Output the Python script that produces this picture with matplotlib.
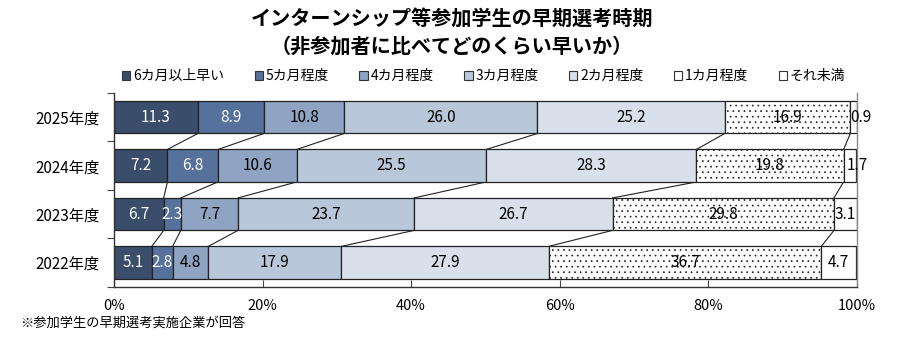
import numpy as np
import matplotlib
matplotlib.use("Agg")
import matplotlib.pyplot as plt
from matplotlib.patches import Patch

plt.rcParams['font.family'] = ['Noto Sans CJK JP', 'DejaVu Sans']
plt.rcParams['hatch.color'] = '#bcbcbc'
plt.rcParams['hatch.linewidth'] = 0.5

# --- データ ---
years = ['2025年度', '2024年度', '2023年度', '2022年度']
categories = ['6カ月以上早い', '5カ月程度', '4カ月程度', '3カ月程度', '2カ月程度', '1カ月程度', 'それ未満']
v_6m = [11.3, 7.2, 6.7, 5.1]
v_5m = [8.9, 6.8, 2.3, 2.8]
v_4m = [10.8, 10.6, 7.7, 4.8]
v_3m = [26.0, 25.5, 23.7, 17.9]
v_2m = [25.2, 28.3, 26.7, 27.9]
v_1m = [16.9, 19.8, 29.8, 36.7]
v_less = [0.9, 1.7, 3.1, 4.7]

series = [v_6m, v_5m, v_4m, v_3m, v_2m, v_1m, v_less]
colors = ['#3a4d6a', '#56719b', '#8fa3c2', '#b9c7da', '#d8e0eb', 'white', 'white']
hatches = [None, None, None, None, None, '...', None]
text_colors = ['white', 'white', 'black', 'black', 'black', 'black', 'black']

fig = plt.figure(figsize=(9.04, 3.55), dpi=100)
ax = fig.add_axes([0.126, 0.192, 0.822, 0.546])

y = np.arange(len(years))
h = 0.67
left = np.zeros(len(years))
cums = []
for vals, c, hat, tc in zip(series, colors, hatches, text_colors):
    vals = np.array(vals)
    ax.barh(y, vals, left=left, height=h, color=c, edgecolor='#222222',
            linewidth=0.9, hatch=hat, zorder=2)
    for yi, (l, v) in enumerate(zip(left, vals)):
        cx = l + v / 2
        if v < 2:
            cx = l + v / 2 + 1.0
        ax.text(cx, yi, f'{v:.1f}', ha='center', va='center', color=tc,
                fontsize=11, zorder=4)
    left = left + vals
    cums.append(left.copy())

# 区切り線 (前年度バーとの接続)
for cum in cums[:-1]:
    for i in range(len(years) - 1):
        ax.plot([cum[i], cum[i + 1]], [i + h / 2, i + 1 - h / 2],
                color='#222222', linewidth=0.8, zorder=1)

ax.set_xlim(0, 100)
ax.set_ylim(len(years) - 0.52, -0.48)
ax.set_xticks(np.arange(0, 101, 20))
ax.set_xticklabels([f'{t}%' for t in range(0, 101, 20)], fontsize=10.5)
ax.tick_params(axis='x', direction='in', length=5, pad=9, color='#444444')
ax.set_yticks(np.arange(-0.5, len(years), 1.0))
ax.set_yticklabels([])
ax.tick_params(axis='y', which='major', direction='out', length=5, color='#444444')
ax.set_yticks(y, minor=True)
ax.set_yticklabels(years, minor=True, fontsize=11)
ax.tick_params(axis='y', which='minor', length=0, pad=10)
ax.spines['top'].set_visible(False)
for s in ['left', 'bottom', 'right']:
    ax.spines[s].set_color('#333333')
    ax.spines[s].set_linewidth(1.0)
ax.spines['right'].set_color('#888888')

handles = [Patch(facecolor=c, edgecolor='#333333', linewidth=0.8) for c in colors]
fig.legend(handles, categories, loc='center', bbox_to_anchor=(0.535, 0.785), ncol=7,
           frameon=False, fontsize=10, handlelength=0.6, handleheight=0.6,
           handletextpad=0.2, columnspacing=2.2)

fig.text(0.5, 0.945, 'インターンシップ等参加学生の早期選考時期', ha='center', va='center',
         fontsize=14.5, fontweight='bold')
fig.text(0.5, 0.87, '（非参加者に比べてどのくらい早いか）', ha='center', va='center',
         fontsize=14.5, fontweight='bold')
fig.text(0.022, 0.09, '※参加学生の早期選考実施企業が回答', ha='left', va='center', fontsize=9.5)

fig.savefig('out.png', dpi=100)
